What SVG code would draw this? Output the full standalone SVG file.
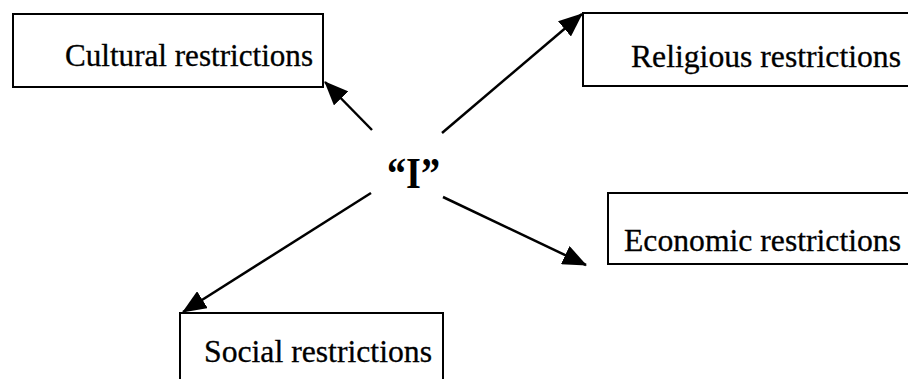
<svg xmlns="http://www.w3.org/2000/svg" width="908" height="379" viewBox="0 0 908 379">
<style>
.box{fill:#fff;stroke:#000;stroke-width:2}
.lbl{font-family:"Liberation Serif","Times New Roman",serif;font-size:31px;fill:#000;stroke:#000;stroke-width:0.3}
.ctr{font-family:"Liberation Serif","Times New Roman",serif;font-size:45px;font-weight:bold;fill:#000}
.con{stroke:#000;stroke-width:2.5;fill:none;marker-end:url(#ah)}
</style>
<defs>
<marker id="ah" markerUnits="userSpaceOnUse" markerWidth="24" markerHeight="20" refX="23" refY="10" orient="auto">
<path d="M0,0 L24,10 L0,20 z" fill="#000"/>
</marker>
</defs>
<rect width="908" height="379" fill="#fff"/>
<g id="cultural"><rect class="box" x="13" y="14" width="310" height="73"/><text class="lbl" x="65" y="66" textLength="248" lengthAdjust="spacingAndGlyphs">Cultural restrictions</text></g>
<g id="religious"><rect class="box" x="583" y="13" width="330" height="73"/><text class="lbl" x="631" y="67" textLength="270" lengthAdjust="spacingAndGlyphs">Religious restrictions</text></g>
<g id="economic"><rect class="box" x="608" y="193" width="305" height="71"/><text class="lbl" x="624" y="251" textLength="277" lengthAdjust="spacingAndGlyphs">Economic restrictions</text></g>
<g id="social"><rect class="box" x="180" y="313" width="263" height="75"/><text class="lbl" x="204" y="362" textLength="228" lengthAdjust="spacingAndGlyphs">Social restrictions</text></g>
<g id="self"><text class="ctr" x="387" y="188" textLength="53" lengthAdjust="spacingAndGlyphs">“I”</text></g>
<g id="connectors">
<line class="con" x1="372" y1="130" x2="325" y2="82"/>
<line class="con" x1="442" y1="133" x2="582" y2="14"/>
<line class="con" x1="443" y1="197" x2="586" y2="265"/>
<line class="con" x1="371" y1="193" x2="183" y2="312"/>
</g>
</svg>
